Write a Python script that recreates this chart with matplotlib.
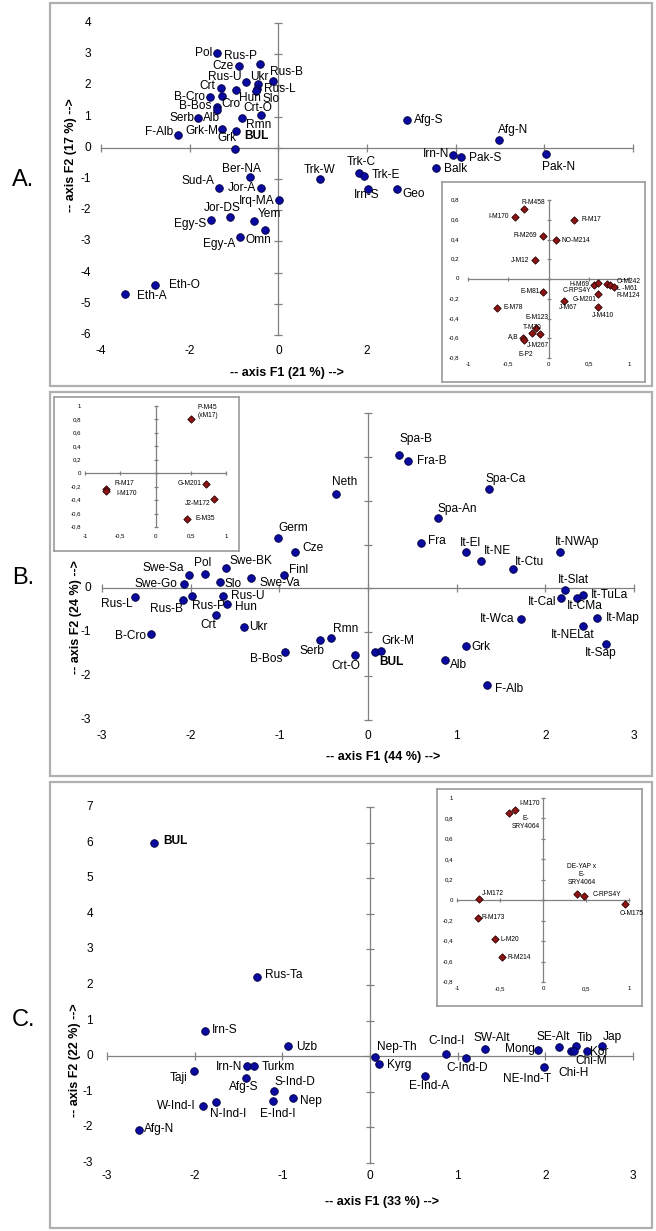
import matplotlib
matplotlib.use('Agg')
import matplotlib.pyplot as plt
from matplotlib.patches import Rectangle

plt.rcParams['font.family'] = ['Liberation Sans', 'DejaVu Sans']

W, H = 656, 1231

# ---- panel A : main populations ----
a_names = ['Pol', 'Rus-P', 'Cze', 'Rus-B', 'Rus-U', 'Ukr', 'Crt', 'Rus-L', 'Slo', 'Hun',
           'B-Cro', 'Cro', 'B-Bos', 'Alb', 'Serb', 'Rmn', 'Crt-O', 'Grk-M', 'BUL', 'Grk',
           'F-Alb', 'Ber-NA', 'Trk-W', 'Sud-A', 'Jor-A', 'Irq-MA', 'Jor-DS', 'Egy-S', 'Yem',
           'Omn', 'Egy-A', 'Eth-O', 'Eth-A', 'Afg-S', 'Afg-N', 'Irn-N', 'Pak-S', 'Pak-N',
           'Balk', 'Trk-C', 'Trk-E', 'Irn-S', 'Geo']
a_x = [-1.38, -0.42, -0.88, -0.11, -0.73, -0.45, -1.29, -0.48, -0.51, -0.95,
       -1.55, -1.28, -1.38, -1.38, -1.81, -0.82, -0.38, -1.26, -0.95, -0.97,
       -2.27, -0.65, 0.93, -1.33, -0.39, 0.02, -1.08, -1.51, -0.54,
       -0.31, -0.87, -2.78, -3.45, 2.91, 4.97, 3.94, 4.11, 6.04,
       3.56, 1.83, 1.93, 2.02, 2.67]
a_y = [3.03, 2.68, 2.61, 2.15, 2.12, 2.04, 1.93, 1.88, 1.82, 1.84,
       1.62, 1.67, 1.30, 1.22, 0.94, 0.97, 1.05, 0.61, 0.53, -0.03,
       0.41, -0.93, -1.00, -1.30, -1.30, -1.67, -2.23, -2.32, -2.36,
       -2.63, -2.86, -4.41, -4.68, 0.90, 0.26, -0.22, -0.30, -0.20,
       -0.64, -0.81, -0.89, -1.32, -1.32]

# ---- panel A : haplogroups (inset) ----
ia_names = ['R-M458', 'I-M170', 'R-M17', 'R-M269', 'NO-M214', 'J-M12', 'H-M69', 'C-RPS4Y',
            'G-M201', 'J-M410', 'O-M242', 'L -M61', 'R-M124', 'E-M81', 'J-M67', 'E-M78',
            'E-M123', 'T-M70', 'J-M267', 'A,B', 'E-P2']
ia_x = [-0.31, -0.41, 0.32, -0.07, 0.09, -0.17, 0.57, 0.61, 0.61, 0.62, 0.73, 0.77, 0.81,
        -0.07, 0.19, -0.64, -0.15, -0.21, -0.11, -0.32, -0.31]
ia_y = [0.71, 0.63, 0.60, 0.44, 0.40, 0.19, -0.06, -0.04, -0.15, -0.28, -0.05, -0.06, -0.08,
        -0.13, -0.22, -0.29, -0.50, -0.55, -0.56, -0.60, -0.62]

# ---- panel B ----
b_names = ['Neth', 'Germ', 'Cze', 'Swe-BK', 'Swe-Sa', 'Pol', 'Finl', 'Slo', 'Swe-Va', 'Swe-Go',
           'Rus-L', 'Rus-B', 'Rus-P', 'Rus-U', 'Hun', 'Crt', 'Ukr', 'B-Cro', 'B-Bos', 'Serb',
           'Rmn', 'Crt-O', 'BUL', 'Grk-M', 'Alb', 'Grk', 'Spa-B', 'Fra-B', 'Spa-Ca', 'Spa-An',
           'Fra', 'It-El', 'It-NE', 'It-Ctu', 'It-NWAp', 'It-Slat', 'It-Cal', 'It-TuLa',
           'It-CMa', 'It-Map', 'It-NELat', 'It-Sap', 'It-Wca', 'F-Alb']
b_x = [-0.36, -1.01, -0.82, -1.60, -2.02, -1.84, -0.95, -1.67, -1.32, -2.08,
       -2.63, -2.09, -1.99, -1.64, -1.59, -1.71, -1.40, -2.45, -0.94, -0.54,
       -0.42, -0.15, 0.08, 0.15, 0.87, 1.10, 0.35, 0.45, 1.36, 0.79,
       0.60, 1.10, 1.28, 1.63, 2.16, 2.22, 2.18, 2.43,
       2.36, 2.58, 2.43, 2.68, 1.73, 1.34]
b_y = [2.15, 1.16, 0.83, 0.46, 0.30, 0.33, 0.30, 0.15, 0.23, 0.11,
       -0.20, -0.27, -0.17, -0.18, -0.36, -0.60, -0.89, -1.05, -1.45, -1.17,
       -1.14, -1.51, -1.46, -1.42, -1.63, -1.32, 3.04, 2.90, 2.27, 1.61,
       1.04, 0.84, 0.62, 0.44, 0.84, -0.04, -0.21, -0.14,
       -0.21, -0.68, -0.86, -1.27, -0.70, -2.20]

ib_names = ['P-M45\n(xM17)', 'R-M17', 'I-M170', 'G-M201', 'J2-M172', 'E-M35']
ib_x = [0.51, -0.70, -0.70, 0.72, 0.83, 0.45]
ib_y = [0.80, -0.23, -0.27, -0.16, -0.39, -0.68]

# ---- panel C ----
c_names = ['BUL', 'Rus-Ta', 'Irn-S', 'Uzb', 'Taji', 'Irn-N', 'Turkm', 'Afg-S', 'S-Ind-D', 'Nep',
           'E-Ind-I', 'N-Ind-I', 'W-Ind-I', 'Afg-N', 'Nep-Th', 'Kyrg', 'E-Ind-A', 'C-Ind-I',
           'C-Ind-D', 'SW-Alt', 'Mong', 'NE-Ind-T', 'SE-Alt', 'Tib', 'Chi-H', 'Chi-M', 'Kor', 'Jap']
c_x = [-2.46, -1.29, -1.88, -0.94, -2.01, -1.40, -1.32, -1.42, -1.09, -0.88,
       -1.11, -1.76, -1.91, -2.63, 0.06, 0.10, 0.63, 0.87,
       1.09, 1.31, 1.92, 1.99, 2.16, 2.35, 2.29, 2.33, 2.48, 2.65]
c_y = [6.00, 2.23, 0.70, 0.30, -0.41, -0.28, -0.28, -0.62, -0.99, -1.17,
       -1.27, -1.30, -1.39, -2.08, -0.03, -0.21, -0.56, 0.05,
       -0.04, 0.21, 0.18, -0.29, 0.27, 0.30, 0.14, 0.15, 0.14, 0.30]

ic_names = ['I-M170', 'E-\nSRY4064', 'DE-YAP x\nE-\nSRY4064', 'C-RPS4Y', 'O-M175',
            'J-M172', 'R-M173', 'L-M20', 'R-M214']
ic_x = [-0.32, -0.39, 0.40, 0.48, 0.95, -0.74, -0.76, -0.56, -0.48]
ic_y = [0.88, 0.85, 0.06, 0.04, -0.04, 0.01, -0.17, -0.38, -0.56]

# label placement (pixel offsets from the point, horizontal alignment)
a_pos = {'Pol': (-5, 0, 'right'), 'Rus-P': (-3, 8, 'right'), 'Cze': (-6, 0, 'right'),
         'Rus-B': (-3, 9, 'left'), 'Rus-U': (-4, 5, 'right'), 'Ukr': (1, 7, 'center'),
         'Crt': (-6, 2, 'right'), 'Rus-L': (7, 0, 'left'), 'Slo': (7, -8, 'left'),
         'Hun': (3, -8, 'left'), 'B-Cro': (-5, 0, 'right'), 'Cro': (0, -8, 'left'),
         'B-Bos': (-6, 1, 'right'), 'Alb': (-6, -8, 'center'), 'Serb': (-4, 0, 'right'),
         'Rmn': (4, -7, 'left'), 'Crt-O': (-4, 7, 'center'), 'Grk-M': (-4, -2, 'right'),
         'BUL': (8, -5, 'left'), 'Grk': (-8, 11, 'center'), 'F-Alb': (-4, 3, 'right'),
         'Ber-NA': (-8, 8, 'center'), 'Trk-W': (0, 9, 'center'), 'Sud-A': (-5, 7, 'right'),
         'Jor-A': (-5, 0, 'right'), 'Irq-MA': (-5, -1, 'right'), 'Jor-DS': (-8, 9, 'center'),
         'Egy-S': (-5, -4, 'right'), 'Yem': (3, 7, 'left'), 'Omn': (-6, -10, 'center'),
         'Egy-A': (-5, -7, 'right'), 'Eth-O': (14, 0, 'left'), 'Eth-A': (12, -2, 'left'),
         'Afg-S': (7, 0, 'left'), 'Afg-N': (14, 10, 'center'), 'Irn-N': (-4, 1, 'right'),
         'Pak-S': (8, -1, 'left'), 'Pak-N': (12, -13, 'center'), 'Balk': (8, -1, 'left'),
         'Trk-C': (2, 11, 'center'), 'Trk-E': (8, 1, 'left'), 'Irn-S': (-1, -6, 'center'),
         'Geo': (6, -5, 'left')}
ia_pos = {'R-M458': (-2, 6, 'left'), 'I-M170': (-7, 0, 'right'), 'R-M17': (7, 0, 'left'),
          'R-M269': (-6, 0, 'right'), 'NO-M214': (6, -1, 'left'), 'J-M12': (-6, 0, 'right'),
          'H-M69': (-5, 0, 'right'), 'C-RPS4Y': (-6, -8, 'right'), 'G-M201': (-1, -6, 'right'),
          'J-M410': (5, -9, 'center'), 'O-M242': (9, 2, 'left'), 'L -M61': (7, -4, 'left'),
          'R-M124': (3, -9, 'left'), 'E-M81': (-3, 0, 'right'), 'J-M67': (4, -7, 'center'),
          'E-M78': (7, 0, 'left'), 'E-M123': (1, 11, 'center'), 'T-M70': (1, 6, 'center'),
          'J-M267': (-2, -11, 'center'), 'A,B': (-4, 2, 'right'), 'E-P2': (2, -14, 'center')}
b_pos = {'Neth': (9, 12, 'center'), 'Germ': (15, 10, 'center'), 'Cze': (7, 4, 'left'),
         'Swe-BK': (3, 7, 'left'), 'Swe-Sa': (-5, 7, 'right'), 'Pol': (-2, 11, 'center'),
         'Finl': (5, 5, 'left'), 'Slo': (5, -2, 'left'), 'Swe-Va': (9, -5, 'left'),
         'Swe-Go': (-6, 0, 'right'), 'Rus-L': (-2, -7, 'right'), 'Rus-B': (0, -9, 'right'),
         'Rus-P': (0, -10, 'left'), 'Rus-U': (8, 0, 'left'), 'Hun': (8, -3, 'left'),
         'Crt': (0, -10, 'right'), 'Ukr': (5, 0, 'left'), 'B-Cro': (-5, -2, 'right'),
         'B-Bos': (-2, -7, 'right'), 'Serb': (-8, -11, 'center'), 'Rmn': (2, 9, 'left'),
         'Crt-O': (-9, -11, 'center'), 'BUL': (4, -10, 'left'), 'Grk-M': (0, 10, 'left'),
         'Alb': (5, -5, 'left'), 'Grk': (6, -1, 'left'), 'Spa-B': (17, 16, 'center'),
         'Fra-B': (9, 0, 'left'), 'Spa-Ca': (-3, 10, 'left'), 'Spa-An': (-1, 9, 'left'),
         'Fra': (7, 2, 'left'), 'It-El': (5, 9, 'center'), 'It-NE': (2, 10, 'left'),
         'It-Ctu': (2, 7, 'left'), 'It-NWAp': (-5, 10, 'left'), 'It-Slat': (-7, 10, 'left'),
         'It-Cal': (-5, -4, 'right'), 'It-TuLa': (7, 0, 'left'), 'It-CMa': (-10, -8, 'left'),
         'It-Map': (9, 0, 'left'), 'It-NELat': (-11, -9, 'center'), 'It-Sap': (-5, -9, 'center'),
         'It-Wca': (-7, 0, 'right'), 'F-Alb': (8, -4, 'left')}
ib_pos = {'P-M45\n(xM17)': (6, 8, 'left'), 'R-M17': (8, 5, 'left'), 'I-M170': (10, -2, 'left'),
          'G-M201': (-5, 0, 'right'), 'J2-M172': (-4, -4, 'right'), 'E-M35': (8, 0, 'left')}
c_pos = {'BUL': (9, 2, 'left'), 'Rus-Ta': (8, 2, 'left'), 'Irn-S': (7, 1, 'left'),
         'Uzb': (9, -1, 'left'), 'Taji': (-6, -7, 'right'), 'Irn-N': (-5, -1, 'right'),
         'Turkm': (7, -1, 'left'), 'Afg-S': (-2, -9, 'center'), 'S-Ind-D': (0, 9, 'left'),
         'Nep': (7, -3, 'left'), 'E-Ind-I': (5, -13, 'center'), 'N-Ind-I': (12, -12, 'center'),
         'W-Ind-I': (-7, 0, 'right'), 'Afg-N': (5, 1, 'left'), 'Nep-Th': (2, 10, 'left'),
         'Kyrg': (8, -1, 'left'), 'E-Ind-A': (4, -10, 'center'), 'C-Ind-I': (0, 13, 'center'),
         'C-Ind-D': (2, -10, 'center'), 'SW-Alt': (7, 11, 'center'), 'Mong': (-3, 1, 'right'),
         'NE-Ind-T': (7, -12, 'right'), 'SE-Alt': (-6, 10, 'center'), 'Tib': (1, 8, 'left'),
         'Chi-H': (3, -22, 'center'), 'Chi-M': (17, -10, 'center'), 'Kor': (3, -1, 'left'),
         'Jap': (0, 9, 'left')}
ic_pos = {'I-M170': (4, 7, 'left'), 'E-\nSRY4064': (16, -9, 'center'),
          'DE-YAP x\nE-\nSRY4064': (4, 20, 'center'), 'C-RPS4Y': (8, 2, 'left'),
          'O-M175': (7, -9, 'center'), 'J-M172': (2, 6, 'left'), 'R-M173': (4, 0, 'left'),
          'L-M20': (6, 0, 'left'), 'R-M214': (6, 0, 'left')}

GREY = '#808080'
fig = plt.figure(figsize=(W / 100, H / 100), dpi=100)


def px_axes(x0, y0, x1, y1):
    return fig.add_axes([x0 / W, 1 - y1 / H, (x1 - x0) / W, (y1 - y0) / H])


def int_fmt(v):
    return '%d' % v


def comma_fmt(v):
    s = '%g' % v
    return '0' if s == '-0' else s.replace('.', ',')


def cross(ax, xt, yt, fmt, fs, ydx, xdy, tlen):
    ax.set_xlim(xt[0], xt[-1])
    ax.set_ylim(yt[0], yt[-1])
    ax.patch.set_alpha(0)
    for s in ['top', 'right']:
        ax.spines[s].set_visible(False)
    for s in ['left', 'bottom']:
        ax.spines[s].set_position(('data', 0))
        ax.spines[s].set_color(GREY)
        ax.spines[s].set_linewidth(0.9)
    ax.set_xticks(xt)
    ax.set_yticks(yt)
    ax.tick_params(direction='inout', length=tlen, width=0.9, color=GREY,
                   labelleft=False, labelbottom=False)
    for v in yt:
        ax.annotate(fmt(v), (0, v), xycoords=('axes fraction', 'data'), xytext=(ydx, 0),
                    textcoords='offset pixels', ha='right', va='center', fontsize=fs)
    for v in xt:
        ax.annotate(fmt(v), (v, 0), xycoords=('data', 'axes fraction'), xytext=(0, xdy),
                    textcoords='offset pixels', ha='center', va='center', fontsize=fs)


def points(ax, names, xs, ys, pos, fs):
    ax.scatter(xs, ys, s=30, marker='o', c='#0a0aa0', edgecolors='#00003c',
               linewidths=0.6, zorder=3, clip_on=False)
    for n, x, y in zip(names, xs, ys):
        dx, dy, ha = pos[n]
        ax.annotate(n, (x, y), xytext=(dx, dy), textcoords='offset pixels', ha=ha,
                    va='center', fontsize=fs, fontweight='bold' if n == 'BUL' else 'normal',
                    annotation_clip=False)


def haplo(ax, names, xs, ys, pos, fs):
    ax.scatter(xs, ys, s=14, marker='D', c='#8e1414', edgecolors='#2a0000',
               linewidths=0.6, zorder=3, clip_on=False)
    for n, x, y in zip(names, xs, ys):
        dx, dy, ha = pos[n]
        ax.annotate(n, (x, y), xytext=(dx, dy), textcoords='offset pixels', ha=ha,
                    va='center', fontsize=fs, multialignment='center',
                    annotation_clip=False)


def box(x0, y0, x1, y1, lw=1.6, ec='#b0b0b0'):
    fig.add_artist(Rectangle((x0 / W, 1 - y1 / H), (x1 - x0) / W, (y1 - y0) / H,
                             transform=fig.transFigure, fill=False, ec=ec, lw=lw))


def inset_frame(x0, y0, x1, y1):
    fr = px_axes(x0, y0, x1, y1)
    fr.set_xticks([])
    fr.set_yticks([])
    fr.set_facecolor('white')
    for s in fr.spines.values():
        s.set_color('#9a9a9a')
        s.set_linewidth(1.2)


FS = 8.6
IFS = 4.8
TFS = 4.4
hx = [-1, -0.5, 0, 0.5, 1]

# panel frames and letters
box(50, 3, 652, 386)
box(50, 392, 652, 776)
box(50, 782, 652, 1228)
fig.text(12 / W, 1 - 180 / H, 'A.', fontsize=17, va='center')
fig.text(12 / W, 1 - 578 / H, 'B.', fontsize=17, va='center')
fig.text(12 / W, 1 - 1020 / H, 'C.', fontsize=17, va='center')

# ---- A ----
ax = px_axes(101, 23, 633, 335)
cross(ax, [-4, -2, 0, 2, 4, 6, 8], list(range(-6, 5)), int_fmt, FS, -10, -16, 5.5)
points(ax, a_names, a_x, a_y, a_pos, FS)
fig.text(287 / W, 1 - 373 / H, '-- axis F1 (21 %) -->', fontsize=9, fontweight='bold',
         ha='center', va='center')
fig.text(71 / W, 1 - 155 / H, '-- axis F2 (17 %) -->', fontsize=9, fontweight='bold',
         ha='center', va='center', rotation=90)

inset_frame(442, 182, 645, 382)
ins = px_axes(468, 200, 629, 358)
cross(ins, hx, [-0.8, -0.6, -0.4, -0.2, 0, 0.2, 0.4, 0.6, 0.8], comma_fmt, TFS, -9, -6, 3)
haplo(ins, ia_names, ia_x, ia_y, ia_pos, IFS)

# ---- B ----
ax = px_axes(102, 413, 634, 720)
cross(ax, list(range(-3, 4)), list(range(-3, 5)), int_fmt, FS, -11, -16, 5.5)
points(ax, b_names, b_x, b_y, b_pos, FS)
fig.text(383 / W, 1 - 757 / H, '-- axis F1 (44 %) -->', fontsize=9, fontweight='bold',
         ha='center', va='center')
fig.text(76 / W, 1 - 617 / H, '-- axis F2 (24 %) -->', fontsize=9, fontweight='bold',
         ha='center', va='center', rotation=90)

inset_frame(54, 397, 239, 551)
ins = px_axes(85, 406, 226, 527)
cross(ins, hx, [-0.8, -0.6, -0.4, -0.2, 0, 0.2, 0.4, 0.6, 0.8, 1], comma_fmt, TFS, -4, -9, 3)
haplo(ins, ib_names, ib_x, ib_y, ib_pos, IFS)

# ---- C ----
ax = px_axes(107, 807, 633, 1163)
cross(ax, list(range(-3, 4)), list(range(-3, 8)), int_fmt, FS, -14, -13, 5.5)
points(ax, c_names, c_x, c_y, c_pos, FS)
fig.text(382 / W, 1 - 1202 / H, '-- axis F1 (33 %) -->', fontsize=9, fontweight='bold',
         ha='center', va='center')
fig.text(75 / W, 1 - 1060 / H, '-- axis F2 (22 %) -->', fontsize=9, fontweight='bold',
         ha='center', va='center', rotation=90)

inset_frame(437, 789, 642, 1006)
ins = px_axes(457, 798, 629, 982)
cross(ins, hx, [-0.8, -0.6, -0.4, -0.2, 0, 0.2, 0.4, 0.6, 0.8, 1], comma_fmt, TFS, -4, -7, 3)
haplo(ins, ic_names, ic_x, ic_y, ic_pos, IFS)

fig.savefig('out.png', dpi=100)
